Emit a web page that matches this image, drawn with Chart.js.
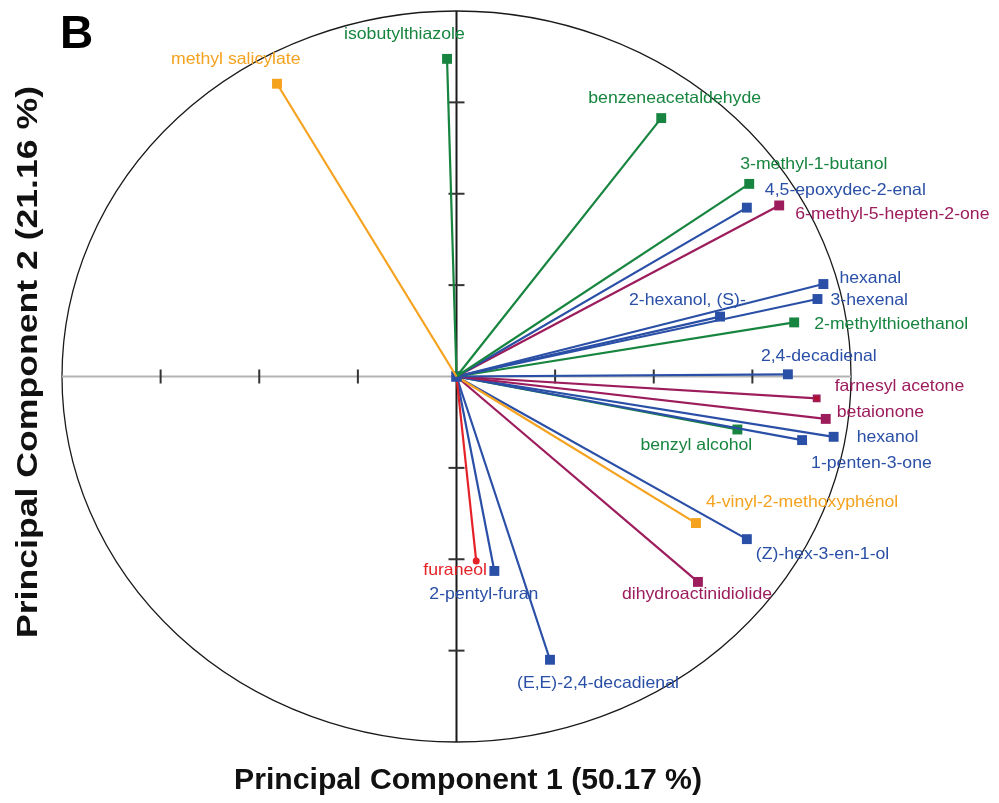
<!DOCTYPE html>
<html>
<head>
<meta charset="utf-8">
<script src="https://cdn.jsdelivr.net/npm/chart.js@4/dist/chart.umd.min.js"></script>
<style>
  html, body { margin: 0; padding: 0; background: #ffffff; }
  #wrap { width: 999px; height: 803px; position: relative; }
</style>
</head>
<body>
<div id="wrap"><canvas id="c" width="999" height="803"></canvas></div>
<script>
// ---- data ----
const names = [
  "methyl salicylate", "isobutylthiazole", "benzeneacetaldehyde", "3-methyl-1-butanol",
  "4,5-epoxydec-2-enal", "6-methyl-5-hepten-2-one", "hexanal", "3-hexenal",
  "2-hexanol, (S)-", "2-methylthioethanol", "2,4-decadienal", "farnesyl acetone",
  "betaionone", "hexanol", "1-penten-3-one", "benzyl alcohol",
  "4-vinyl-2-methoxyphénol", "(Z)-hex-3-en-1-ol", "dihydroactinidiolide", "furaneol",
  "2-pentyl-furan", "(E,E)-2,4-decadienal"
];
const pc1 = [-0.455, -0.024, 0.519, 0.742, 0.736, 0.818, 0.930, 0.915, 0.668, 0.856, 0.840, 0.913,
             0.936, 0.956, 0.876, 0.712, 0.607, 0.736, 0.612, 0.050, 0.096, 0.237];
const pc2 = [0.801, 0.869, 0.707, 0.527, 0.462, 0.468, 0.253, 0.212, 0.164, 0.148, 0.006, -0.060,
             -0.116, -0.165, -0.174, -0.145, -0.401, -0.445, -0.562, -0.505, -0.532, -0.775];
const groups = ["orange", "green", "green", "green", "blue", "purple", "blue", "blue",
                "blue", "green", "blue", "purple", "purple", "blue", "blue", "green",
                "orange", "blue", "purple", "red", "blue", "blue"];
const axisTicks = [-0.75, -0.5, -0.25, 0.25, 0.5, 0.75];
const xTitle = "Principal Component 1 (50.17 %)";
const yTitle = "Principal Component 2 (21.16 %)";
const panelLetter = "B";

// ---- styles / layout ----
const palette = { green: "#17853f", blue: "#2a4fa6", purple: "#9c1c5c", orange: "#f5a21e", red: "#e42228" };
// label anchor offsets in pixels from the marker (left edge, vertical middle)
const labelOffsets = [
  [-106, -24], [-103, -24], [-73, -20], [-9, -19], [18, -17], [16, 9], [16, -6], [13, 1],
  [-91, -16], [20, 2], [-27, -18], [18, -12], [11, -6], [23, 1], [9, 23], [-97, 16],
  [10, -21], [9, 15], [-76, 13], [-53, 9], [-65, 24], [-33, 24]
];
const FONT = '"Liberation Sans", Arial, Helvetica, sans-serif';
const SX = 1.07;

const datasets = names.map((n, i) => {
  const col = palette[groups[i]];
  let style = 'rect', r = 7, bg = col, bc = col, bw = 0;
  if (n === "farnesyl acetone") { r = 4.5; bg = "#b01030"; bc = col; bw = 1.5; }
  if (n === "furaneol") { style = 'circle'; r = 3.5; }
  const originR = (n === "hexanal") ? 7.5 : 0;
  return {
    label: n,
    data: [{ x: 0, y: 0 }, { x: pc1[i], y: pc2[i] }],
    showLine: true,
    borderColor: col,
    borderWidth: 2.2,
    pointStyle: style,
    pointRadius: [originR, r],
    pointBackgroundColor: bg,
    pointBorderColor: bc,
    pointBorderWidth: bw,
    pointHoverRadius: [originR, r],
    clip: false
  };
});

function drawText(ctx, text, x, y, font, color, sx, align) {
  ctx.save();
  ctx.font = font;
  ctx.fillStyle = color;
  ctx.textBaseline = 'middle';
  ctx.textAlign = align || 'left';
  ctx.translate(x, y);
  ctx.scale(sx, 1);
  ctx.fillText(text, 0, 0);
  ctx.restore();
}

const decor = {
  id: 'decor',
  beforeDatasetsDraw(chart) {
    const ctx = chart.ctx;
    const xs = chart.scales.x, ys = chart.scales.y;
    const cx = xs.getPixelForValue(0), cy = ys.getPixelForValue(0);
    const rx = xs.getPixelForValue(1) - cx, ry = cy - ys.getPixelForValue(1);
    ctx.save();
    // circle of correlations
    ctx.beginPath();
    ctx.ellipse(cx, cy, rx, ry, 0, 0, Math.PI * 2);
    ctx.strokeStyle = "#1a1a1a";
    ctx.lineWidth = 1.3;
    ctx.stroke();
    // horizontal axis (gray)
    ctx.beginPath();
    ctx.moveTo(xs.getPixelForValue(-1), cy);
    ctx.lineTo(xs.getPixelForValue(1), cy);
    ctx.strokeStyle = "#b3b3b3";
    ctx.lineWidth = 2;
    ctx.stroke();
    // vertical axis (black)
    ctx.beginPath();
    ctx.moveTo(cx, ys.getPixelForValue(1));
    ctx.lineTo(cx, ys.getPixelForValue(-1));
    ctx.strokeStyle = "#1a1a1a";
    ctx.lineWidth = 2;
    ctx.stroke();
    // ticks
    ctx.strokeStyle = "#333333";
    ctx.lineWidth = 2;
    axisTicks.forEach(t => {
      const px = xs.getPixelForValue(t);
      ctx.beginPath(); ctx.moveTo(px, cy - 7); ctx.lineTo(px, cy + 7); ctx.stroke();
      const py = ys.getPixelForValue(t);
      ctx.beginPath(); ctx.moveTo(cx - 8, py); ctx.lineTo(cx + 8, py); ctx.stroke();
    });
    ctx.restore();
  },
  afterDatasetsDraw(chart) {
    const ctx = chart.ctx;
    const xs = chart.scales.x, ys = chart.scales.y;
    names.forEach((n, i) => {
      const px = xs.getPixelForValue(pc1[i]) + labelOffsets[i][0];
      const py = ys.getPixelForValue(pc2[i]) + labelOffsets[i][1];
      drawText(ctx, n, px, py, '16.5px ' + FONT, palette[groups[i]], SX, 'left');
    });
    // panel letter
    ctx.save();
    ctx.font = 'bold 46px ' + FONT;
    ctx.fillStyle = '#000';
    ctx.textBaseline = 'alphabetic';
    ctx.fillText(panelLetter, 60, 48);
    ctx.restore();
    // x title
    ctx.save();
    ctx.font = 'bold 29px ' + FONT;
    let w = ctx.measureText(xTitle).width;
    ctx.fillStyle = '#111';
    ctx.textBaseline = 'alphabetic';
    ctx.textAlign = 'center';
    ctx.translate(468, 789);
    ctx.scale(468 / w, 1);
    ctx.fillText(xTitle, 0, 0);
    ctx.restore();
    // y title
    ctx.save();
    ctx.font = 'bold 30px ' + FONT;
    w = ctx.measureText(yTitle).width;
    ctx.fillStyle = '#111';
    ctx.textBaseline = 'alphabetic';
    ctx.textAlign = 'center';
    ctx.translate(37, 362);
    ctx.rotate(-Math.PI / 2);
    ctx.scale(552 / w, 1);
    ctx.fillText(yTitle, 0, 0);
    ctx.restore();
  }
};

new Chart(document.getElementById('c'), {
  type: 'scatter',
  data: { datasets },
  options: {
    responsive: false,
    animation: false,
    events: [],
    layout: { padding: { left: 62, right: 148, top: 11, bottom: 61 } },
    scales: {
      x: { type: 'linear', min: -1, max: 1, display: false },
      y: { type: 'linear', min: -1, max: 1, display: false }
    },
    plugins: { legend: { display: false }, tooltip: { enabled: false } }
  },
  plugins: [decor]
});
</script>
</body>
</html>
